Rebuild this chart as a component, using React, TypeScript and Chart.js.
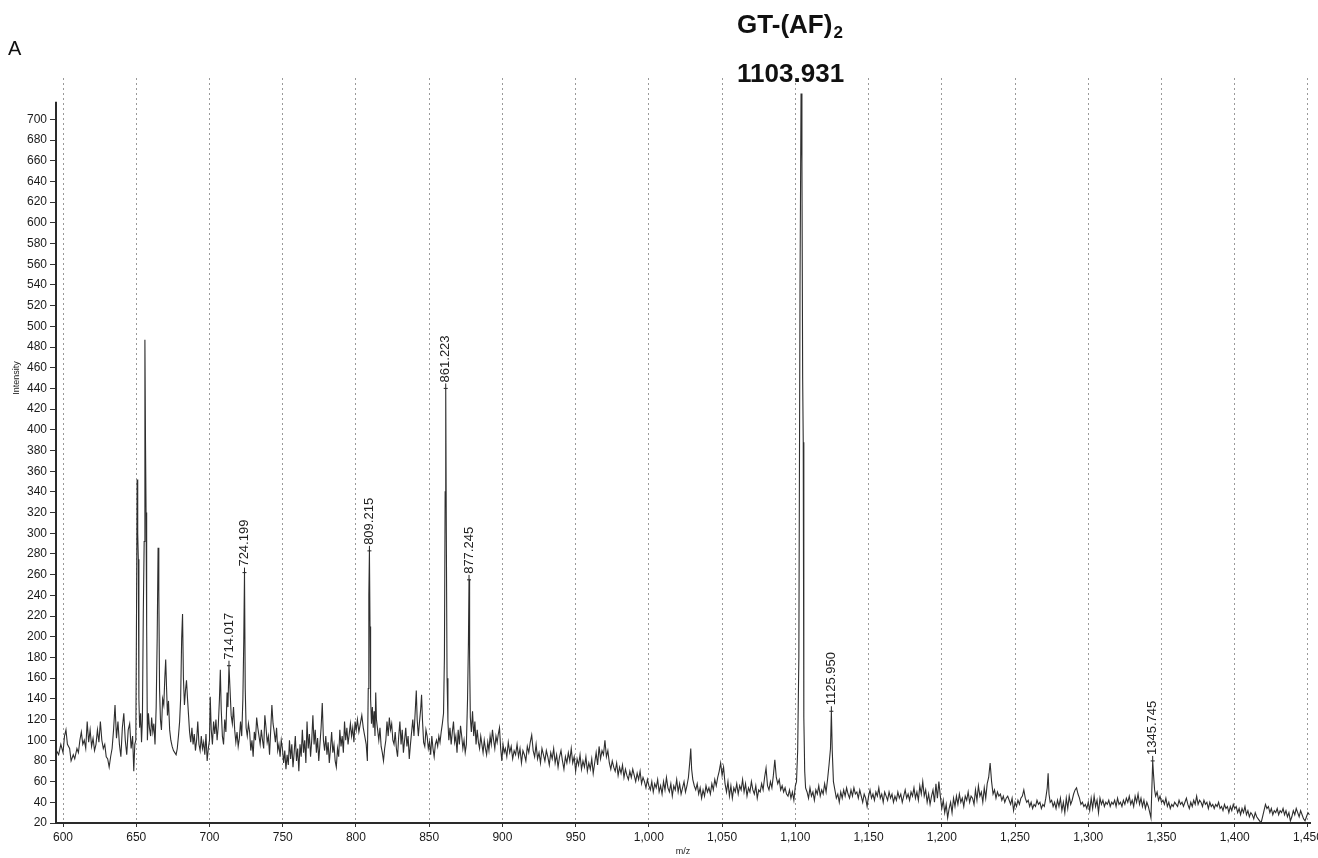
import React, { useEffect, useRef } from "react";
import { Chart, registerables } from "chart.js";
Chart.register(...registerables);

// ---- spectrum data: [m/z, intensity] ----
const seg600: [number, number][] = [
  [595.5,90],[597,86],[598.5,96],[600,88],[601,104],[602,110],[603,96],[604.5,92],[605.5,80],[607,86],[608,82],[609.5,92],[610.5,88],[611.5,100],[612.5,108],[613.5,96],[614.5,100],[615.5,92],[616.5,118],[617.5,98],[618.5,110],[619.5,94],[620.5,102],[621.5,90],[622.5,96],[623.5,110],[624.5,98],[625.5,118],[626.5,100],[627.5,92],[628.5,96],[629.5,84],[630.5,82],[631.5,74],[632.5,84],[633.5,92],[634.5,110],[635.5,134],[636.5,102],[637.5,118],[638.5,96],[639.5,84],[640.5,112],[641.5,126],[642.5,100],[643.5,86],[644.5,110],[645.5,116],[646.5,92],[647.5,104],[648.3,70],[649,96],[649.7,100]
];
const seg650: [number, number][] = [
  [650.2,228],[650.6,352],[651,300],[651.4,275],[651.8,140],[652.3,112],[653,126],[653.6,98],[654.2,120],[654.8,222],[655.4,292],[655.9,487],[656.3,390],[656.7,320],[657.1,210],[657.6,100],[658.3,126],[659,112],[659.8,104],[660.5,122],[661.3,108],[662,116],[662.8,96],[663.6,132],[664.3,200],[664.9,286],[665.4,244],[665.9,150],[666.5,120],[667.2,110],[668,140],[668.8,134],[669.5,160],[670.1,178],[670.7,150],[671.3,124],[672,138],[672.8,110],[673.6,100],[674.5,94],[675.4,90],[676.3,88],[677.2,86],[678,92],[678.8,104],[679.6,118],[680.3,140],[681,198],[681.6,222],[682.2,160],[682.9,134],[683.6,148],[684.3,158],[685,140],[685.7,124],[686.4,108],[687.2,98],[688,112],[688.8,96],[689.6,106],[690.4,90],[691.2,100],[692,118],[692.8,96],[693.6,90],[694.4,104],[695.2,92],[696,98],[696.8,86],[697.6,106],[698.4,80],[699.2,92],[700,100]
];
const seg700: [number, number][] = [
  [700.5,142],[701.2,110],[702,96],[702.8,118],[703.6,106],[704.4,120],[705.2,100],[706,114],[706.8,140],[707.4,168],[708,130],[708.8,104],[709.6,96],[710.4,120],[711.2,108],[712,146],[712.6,132],[713.3,172],[714,150],[714.8,124],[715.6,116],[716.4,132],[717.2,110],[718,98],[718.8,108],[719.6,94],[720.4,102],[721.2,118],[722,104],[722.8,140],[723.4,196],[723.9,262],[724.4,150],[725,112],[725.8,104],[726.6,116],[727.4,108],[728.2,90],[729,100],[729.8,84],[730.6,108],[731.4,100],[732.2,122],[733,112],[733.8,104],[734.6,96],[735.4,110],[736.2,100],[737,92],[737.8,124],[738.6,112],[739.4,98],[740.2,104],[741,86],[741.8,110],[742.6,134],[743.4,116],[744.2,108],[745,98],[745.8,112],[746.6,90],[747.4,96],[748.2,84],[749,100],[749.8,92]
];
const seg750: [number, number][] = [
  [750.6,78],[751.4,90],[752.2,72],[753,86],[753.8,76],[754.6,100],[755.4,82],[756.2,96],[757,74],[757.8,88],[758.6,104],[759.4,80],[760.2,92],[761,70],[761.8,96],[762.6,84],[763.4,110],[764.2,88],[765,100],[765.8,78],[766.6,118],[767.4,92],[768.2,106],[769,84],[769.8,100],[770.6,124],[771.4,96],[772.2,110],[773,88],[773.8,102],[774.6,80],[775.4,96],[776.2,112],[777,136],[777.8,100],[778.6,90],[779.4,104],[780.2,86],[781,98],[781.8,78],[782.6,92],[783.4,108],[784.2,88],[785,96],[785.8,80],[786.6,74],[787.4,92],[788.2,84],[789,110],[789.8,94],[790.6,104],[791.4,88],[792.2,118],[793,100],[793.8,112],[794.6,96],[795.4,106],[796.2,116],[797,104],[797.8,112],[798.6,98],[799.4,118],[800.2,110]
];
const seg800: [number, number][] = [
  [801,120],[802,108],[803,116],[804,124],[805,112],[806,104],[807,96],[807.8,80],[808.4,150],[808.8,240],[809.2,283],[809.6,210],[810,140],[810.6,116],[811.2,132],[811.8,112],[812.4,128],[813,104],[813.5,146],[814,120],[814.8,110],[815.6,100],[816.4,112],[817.2,94],[818,88],[818.8,80],[819.6,92],[820.4,100],[821.2,118],[822,104],[822.8,122],[823.6,110],[824.4,116],[825.2,100],[826,96],[826.8,108],[827.6,92],[828.4,84],[829.2,104],[830,118],[830.8,96],[831.6,110],[832.4,88],[833.2,100],[834,112],[834.8,94],[835.6,104],[836.4,82],[837.2,96],[838,108],[838.8,120],[839.6,104],[840.4,126],[841.2,148],[841.8,120],[842.6,104],[843.4,118],[844.2,130],[844.8,144],[845.4,120],[846.2,98],[847,94],[847.8,110],[848.6,104],[849.4,92]
];
const seg850: [number, number][] = [
  [850.2,98],[851,86],[851.8,104],[852.6,92],[853.4,84],[854.2,96],[855,100],[855.8,94],[856.6,104],[857.4,98],[858.2,108],[859,116],[859.8,126],[860.4,180],[860.9,340],[861.3,440],[861.7,300],[862.2,160],[862.8,118],[863.4,100],[864.2,112],[865,96],[865.8,108],[866.6,118],[867.4,98],[868.2,104],[869,88],[869.8,110],[870.6,96],[871.4,114],[872.2,104],[873,92],[873.8,100],[874.6,88],[875.4,96],[876.2,140],[876.8,195],[877.2,255],[877.6,180],[878.1,122],[878.8,108],[879.6,128],[880.4,104],[881.2,118],[882,96],[882.8,110],[883.6,98],[884.4,92],[885.2,104],[886,96],[886.8,88],[887.6,100],[888.4,92],[889.2,86],[890,98],[890.8,90],[891.6,104],[892.4,96],[893.2,110],[894,100],[894.8,92],[895.6,104],[896.4,98],[897.2,106],[898,112],[898.8,92],[899.6,80],[900.4,96],[901.2,88]
];
const seg900: [number, number][] = [
  [902,92],[903,84],[904,98],[905,88],[906,94],[907,82],[908,90],[909,86],[910,96],[911,84],[912,92],[913,78],[914,90],[915,86],[916,80],[917,94],[918,88],[919,98],[920,105],[921,90],[922,84],[923,96],[924,82],[925,88],[926,78],[927,92],[928,86],[929,80],[930,90],[931,84],[932,76],[933,88],[934,82],[935,92],[936,78],[937,86],[938,74],[939,84],[940,90],[941,80],[942,72],[943,84],[944,78],[945,88],[946,80],[947,92],[948,78],[949,84],[950,70]
];
const seg950: [number, number][] = [
  [951,82],[952,76],[953,86],[954,72],[955,80],[956,74],[957,84],[958,70],[959,78],[960,72],[961,82],[962,68],[963,78],[964,88],[965,76],[966,94],[967,82],[968,90],[969,86],[970,100],[971,84],[972,90],[973,78],[974,72],[975,80],[976,74],[977,70],[978,78],[979,66],[980,74],[981,68],[982,76],[983,64],[984,72],[985,66],[986,62],[987,70],[988,64],[989,72],[990,66],[991,60],[992,68],[993,62],[994,70],[995,58],[996,64],[997,60],[998,54],[999,62],[1000,56]
];
const seg1000: [number, number][] = [
  [1001,52],[1002,60],[1003,50],[1004,58],[1005,54],[1006,62],[1007,50],[1008,56],[1009,48],[1010,60],[1011,52],[1012,64],[1013,54],[1014,50],[1015,58],[1016,46],[1017,56],[1018,52],[1019,62],[1020,50],[1021,58],[1022,48],[1023,54],[1024,60],[1025,50],[1026,56],[1027,64],[1028,80],[1028.6,92],[1029.2,72],[1030,62],[1031,56],[1032,52],[1033,58],[1034,48],[1035,54],[1036,44],[1037,52],[1038,46],[1039,56],[1040,50],[1041,54],[1042,48],[1043,58],[1044,52],[1045,62],[1046,56],[1047,64],[1048,70],[1049,78]
];
const seg1050: [number, number][] = [
  [1050,66],[1051,74],[1052,58],[1053,50],[1054,60],[1055,46],[1056,56],[1057,44],[1058,54],[1059,50],[1060,58],[1061,48],[1062,56],[1063,52],[1064,62],[1065,50],[1066,58],[1067,46],[1068,54],[1069,50],[1070,60],[1071,52],[1072,48],[1073,56],[1074,44],[1075,52],[1076,50],[1077,58],[1078,52],[1079,64],[1080,73],[1081,56],[1082,52],[1083,60],[1084,54],[1085,66],[1086,81],[1087,64],[1088,58],[1089,62],[1090,52],[1091,56],[1092,50],[1093,54],[1094,48],[1095,46],[1096,52],[1097,44],[1098,50],[1099,42]
];
const seg1100: [number, number][] = [
  [1100,56],[1100.8,60],[1101.6,90],[1102.4,180],[1103.2,540],[1103.9,725],[1104.5,660],[1105,450],[1105.4,388],[1105.8,122],[1106.4,70],[1107,54],[1108,50],[1109,44],[1110,54],[1111,46],[1112,50],[1113,42],[1114,52],[1115,48],[1116,56],[1117,46],[1118,52],[1119,48],[1120,58],[1121,50],[1122,62],[1123,76],[1124,92],[1124.6,128],[1125.2,90],[1126,60],[1127,52],[1128,44],[1129,48],[1130,40],[1131,50],[1132,44],[1133,52],[1134,46],[1135,54],[1136,48],[1137,44],[1138,52],[1139,46],[1140,54],[1141,48],[1142,50],[1143,44],[1144,52],[1145,46],[1146,40],[1147,48],[1148,44],[1149,36],[1150,46]
];
const seg1150: [number, number][] = [
  [1151,52],[1152,44],[1153,48],[1154,42],[1155,50],[1156,46],[1157,54],[1158,44],[1159,48],[1160,40],[1161,50],[1162,46],[1163,42],[1164,50],[1165,44],[1166,48],[1167,40],[1168,46],[1169,42],[1170,50],[1171,44],[1172,48],[1173,40],[1174,46],[1175,52],[1176,44],[1177,48],[1178,42],[1179,50],[1180,46],[1181,54],[1182,44],[1183,50],[1184,42],[1185,56],[1186,48],[1187,60],[1188,46],[1189,52],[1190,40],[1191,48],[1192,38],[1193,46],[1194,52],[1195,40],[1196,58],[1197,44],[1198,60],[1199,46]
];
const seg1200: [number, number][] = [
  [1200,34],[1201,42],[1202,30],[1203,38],[1204,25],[1205,34],[1206,40],[1207,30],[1208,44],[1209,36],[1210,46],[1211,38],[1212,48],[1213,40],[1214,44],[1215,36],[1216,46],[1217,42],[1218,50],[1219,40],[1220,46],[1221,44],[1222,38],[1223,52],[1224,42],[1225,56],[1226,46],[1227,50],[1228,40],[1229,54],[1230,44],[1231,58],[1232,64],[1233,78],[1234,60],[1235,48],[1236,52],[1237,44],[1238,50],[1239,46],[1240,48],[1241,42],[1242,46],[1243,40],[1244,44],[1245,46],[1246,42],[1247,38],[1248,44],[1249,32]
];
const seg1250: [number, number][] = [
  [1250,40],[1251,36],[1252,42],[1253,38],[1254,44],[1255,46],[1256,52],[1257,44],[1258,40],[1259,42],[1260,36],[1261,40],[1262,34],[1263,38],[1264,36],[1265,42],[1266,38],[1267,40],[1268,34],[1269,38],[1270,36],[1271,44],[1272,54],[1272.6,68],[1273.2,48],[1274,40],[1275,42],[1276,36],[1277,40],[1278,34],[1279,42],[1280,36],[1281,44],[1282,32],[1283,40],[1284,30],[1285,44],[1286,34],[1287,46],[1288,38],[1289,42],[1290,48],[1291,52],[1292,54],[1293,48],[1294,44],[1295,38],[1296,40],[1297,36],[1298,38],[1299,34]
];
const seg1300: [number, number][] = [
  [1300,40],[1301,32],[1302,44],[1303,34],[1304,46],[1305,36],[1306,42],[1307,30],[1308,44],[1309,38],[1310,42],[1311,36],[1312,40],[1313,38],[1314,42],[1315,36],[1316,40],[1317,38],[1318,42],[1319,36],[1320,44],[1321,38],[1322,40],[1323,36],[1324,42],[1325,38],[1326,44],[1327,40],[1328,46],[1329,38],[1330,42],[1331,36],[1332,46],[1333,40],[1334,48],[1335,38],[1336,44],[1337,36],[1338,42],[1339,34],[1340,40],[1341,36],[1342,30],[1342.8,25],[1343.4,52],[1344,80],[1344.6,66],[1345.3,52],[1346,46],[1347,50],[1348,42],[1349,46]
];
const seg1350: [number, number][] = [
  [1350,40],[1351,42],[1352,38],[1353,44],[1354,36],[1355,40],[1356,34],[1357,38],[1358,36],[1359,40],[1360,38],[1361,36],[1362,42],[1363,38],[1364,40],[1365,36],[1366,40],[1367,44],[1368,38],[1369,34],[1370,40],[1371,36],[1372,42],[1373,38],[1374,46],[1375,38],[1376,42],[1377,40],[1378,36],[1379,42],[1380,38],[1381,40],[1382,34],[1383,40],[1384,36],[1385,38],[1386,34],[1387,38],[1388,36],[1389,40],[1390,34],[1391,36],[1392,32],[1393,38],[1394,34],[1395,36],[1396,30],[1397,36],[1398,32],[1399,38]
];
const seg1400: [number, number][] = [
  [1400,34],[1401,36],[1402,30],[1403,34],[1404,28],[1405,34],[1406,30],[1407,36],[1408,28],[1409,32],[1410,26],[1411,30],[1412,28],[1413,24],[1414,30],[1415,26],[1416,24],[1417,22],[1418,20],[1419,26],[1420,32],[1421,38],[1422,34],[1423,36],[1424,30],[1425,34],[1426,28],[1427,32],[1428,30],[1429,34],[1430,28],[1431,32],[1432,30],[1433,34],[1434,28],[1435,32],[1436,26],[1437,30],[1438,22],[1439,26],[1440,32],[1441,28],[1442,34],[1443,30],[1444,26],[1445,32],[1446,28],[1447,24],[1448,22],[1449,26],[1450,30],[1451,28]
];

// annotated peaks: [m/z position, intensity, label]
const peakLabels: [number, number, string][] = [
  [713.3, 172, "714.017"],
  [723.9, 262, "724.199"],
  [809.2, 283, "809.215"],
  [861.3, 440, "861.223"],
  [877.2, 255, "877.245"],
  [1124.6, 128, "1125.950"],
  [1344, 80, "1345.745"],
];

const mainPeak = 1103.931;
const titleLine1 = "GT-(AF)";
const titleSub = "2";
const titleLine2 = "1103.931";
const panelLetter = "A";
const yTitle = "Intensity";
const xTitle = "m/z";

const xMin = 595.2;
const xMax = 1451.4;
const yMin = 20;
const yMax = 740;
const yAxisTop = 717;
const yTickMax = 700;

const FONT = "'Liberation Sans', Arial, sans-serif";

export default function App() {
  const ref = useRef<HTMLCanvasElement | null>(null);
  useEffect(() => {
    if (!ref.current) return;
    const spectrum = [
      ...seg600, ...seg650, ...seg700, ...seg750, ...seg800, ...seg850,
      ...seg900, ...seg950, ...seg1000, ...seg1050, ...seg1100, ...seg1150,
      ...seg1200, ...seg1250, ...seg1300, ...seg1350, ...seg1400,
    ];

    const annotate = {
      id: "annotate",
      afterDatasetsDraw(chart: any) {
        const { ctx, scales } = chart;
        const xs = scales.x, ys = scales.y;
        ctx.save();
        // y axis line (shorter than chart area)
        ctx.strokeStyle = "#2a2a2a";
        ctx.lineWidth = 2;
        ctx.beginPath();
        ctx.moveTo(xs.left, ys.getPixelForValue(yAxisTop));
        ctx.lineTo(xs.left, ys.bottom + 1);
        ctx.stroke();

        // peak labels
        ctx.fillStyle = "#222";
        ctx.strokeStyle = "#222";
        ctx.lineWidth = 1;
        ctx.font = `13px ${FONT}`;
        for (const [mz, inten, text] of peakLabels) {
          const px = xs.getPixelForValue(mz);
          const py = ys.getPixelForValue(inten);
          ctx.beginPath();
          ctx.moveTo(px - 2, py);
          ctx.lineTo(px + 2, py);
          ctx.moveTo(px, py);
          ctx.lineTo(px, py - 5);
          ctx.stroke();
          ctx.save();
          ctx.translate(px, py - 6);
          ctx.rotate(-Math.PI / 2);
          ctx.textAlign = "left";
          ctx.textBaseline = "middle";
          ctx.fillText(text, 0, 0);
          ctx.restore();
        }

        // title over the main peak
        const tx = xs.getPixelForValue(mainPeak) - 64;
        ctx.fillStyle = "#111";
        ctx.textAlign = "left";
        ctx.textBaseline = "alphabetic";
        ctx.font = `bold 26px ${FONT}`;
        ctx.fillText(titleLine1, tx, 33);
        const w = ctx.measureText(titleLine1).width;
        ctx.font = `bold 17px ${FONT}`;
        ctx.fillText(titleSub, tx + w + 1, 38);
        ctx.font = `bold 26px ${FONT}`;
        ctx.fillText(titleLine2, tx, 82);

        // panel letter
        ctx.font = `20px ${FONT}`;
        ctx.fillText(panelLetter, 8, 55);

        // y title
        ctx.save();
        ctx.font = `9px ${FONT}`;
        ctx.fillStyle = "#222";
        ctx.translate(17, 378);
        ctx.rotate(-Math.PI / 2);
        ctx.textAlign = "center";
        ctx.textBaseline = "middle";
        ctx.fillText(yTitle, 0, 0);
        ctx.restore();
        ctx.restore();
      },
    };

    const chart = new Chart(ref.current, {
      type: "line",
      data: {
        datasets: [
          {
            data: spectrum.map(([x, y]) => ({ x, y })),
            borderColor: "#2e2e2e",
            borderWidth: 1.1,
            pointRadius: 0,
            tension: 0,
            fill: false,
          },
        ],
      },
      options: {
        responsive: false,
        animation: false,
        layout: { padding: { top: 78, right: 8, left: 0, bottom: 0 } },
        plugins: { legend: { display: false }, tooltip: { enabled: false } },
        scales: {
          x: {
            type: "linear",
            min: xMin,
            max: xMax,
            afterFit: (s: any) => { s.height = 35; s.paddingRight = 0; },
            ticks: {
              stepSize: 50,
              includeBounds: false,
              autoSkip: false,
              maxRotation: 0,
              padding: 3,
              color: "#1a1a1a",
              font: { family: FONT, size: 12 },
              callback: (v: any) => Number(v).toLocaleString("en-US"),
            },
            grid: {
              color: "#9a9a9a",
              lineWidth: 1,
              drawTicks: true,
              tickLength: 4,
              tickColor: "#333",
            },
            border: { display: true, color: "#2a2a2a", width: 2, dash: [2, 3] },
            title: {
              display: true,
              text: xTitle,
              color: "#222",
              font: { family: FONT, size: 9 },
              padding: { top: 0, bottom: 1 },
            },
          },
          y: {
            type: "linear",
            min: yMin,
            max: yMax,
            afterFit: (s: any) => { s.width = 56; },
            afterBuildTicks: (s: any) => {
              s.ticks = s.ticks.filter((t: any) => t.value <= yTickMax);
            },
            ticks: {
              stepSize: 20,
              includeBounds: false,
              autoSkip: false,
              padding: 3,
              color: "#1a1a1a",
              font: { family: FONT, size: 12 },
            },
            grid: {
              drawOnChartArea: false,
              drawTicks: true,
              tickLength: 6,
              tickColor: "#333",
            },
            border: { display: false },
          },
        },
      },
      plugins: [annotate],
    });
    return () => chart.destroy();
  }, []);

  return (
    <div style={{ position: "absolute", left: 0, top: 0, width: 1318, height: 858, background: "#fff" }}>
      <canvas ref={ref} width={1318} height={858} />
    </div>
  );
}
